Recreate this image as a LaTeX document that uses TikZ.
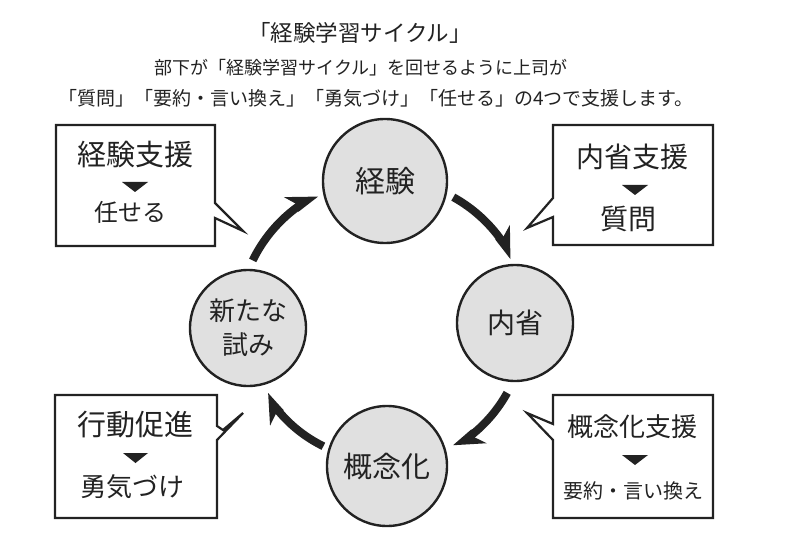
\documentclass[tikz,border=0pt]{standalone}
\usepackage{fontspec}
\newfontfamily\jp{Noto Sans CJK JP}
\usetikzlibrary{calc}
\definecolor{cfill}{HTML}{E0E0E0}
\definecolor{ink}{HTML}{222222}
\newcommand{\cycarr}[3]{% #1 start angle, #2 tip angle (visual, counter-clockwise), #3 radius
  \draw[ink,line width=8pt] ($(C)+(-#1:#3)$) arc[start angle=-#1, end angle={-(#2+8)}, radius=#3];
  \fill[ink] ($(C)+({-#2}:{#3-2})$) -- ($(C)+({-(#2+11)}:{#3+16})$) -- ($(C)+({-(#2+9)}:{#3+4})$) -- ($(C)+({-(#2+10)}:{#3-4.5})$) -- cycle;
}
\begin{document}
\begin{tikzpicture}[x=1pt,y=-1pt,
  cyc/.style={circle,draw=ink,line width=2.4pt,fill=cfill,inner sep=0pt,text=ink,align=center},
  bubble/.style={draw=ink,line width=2.2pt,line join=miter,fill=white},
  lbl/.style={inner sep=0pt,text=ink,align=center,font=\jp\fontsize{#1}{36}\selectfont},
  tri/.style={fill=ink}]
\useasboundingbox (0,0) rectangle (800,556);
\fill[white] (0,0) rectangle (800,556);

% heading
\node[lbl=22.5] (title) at (360,33) {「経験学習サイクル」};
\node[lbl=18] (sub1) at (361,68) {部下が「経験学習サイクル」を回せるように上司が};
\node[lbl=19] (sub2) at (376,98) {「質問」「要約・言い換え」「勇気づけ」「任せる」の4つで支援します。};

% cycle centre
\coordinate (C) at (383,324);

% circles
\node[cyc,minimum size=124pt,font=\jp\fontsize{30}{34}\selectfont] (exp) at (385,181) {経験};
\node[cyc,minimum size=116pt,font=\jp\fontsize{28}{34}\selectfont] (ref) at (515,323) {内省};
\node[cyc,minimum size=120pt,font=\jp\fontsize{29}{34}\selectfont] (con) at (387,466) {概念化};
\node[cyc,minimum size=116pt,font=\jp\fontsize{26}{34}\selectfont] (try) at (248,328) {新たな\\試み};

% cycle arrows
\cycarr{154}{117}{145}
\cycarr{61}{27}{145}
\cycarr{-29}{-60}{142}
\cycarr{-116}{-149}{136}

% speech bubbles
\draw[bubble] (56,125) -- (215,125) -- (215,203) -- (243,231) -- (215,218) -- (215,246) -- (56,246) -- cycle;
\draw[bubble] (553,125) -- (713,125) -- (713,245) -- (553,245) -- (553,217) -- (527,228) -- (553,198) -- cycle;
\draw[bubble] (55,395) -- (217,395) -- (217,426) -- (223,430) -- (243,413) -- (217,440) -- (217,518) -- (55,518) -- cycle;
\draw[bubble] (553,395) -- (713,395) -- (713,518) -- (553,518) -- (553,440) -- (527,413) -- (553,424) -- cycle;

% bubble texts
\node[lbl=29] (b1a) at (135,155) {経験支援};
\fill[tri] (122,182) -- (148,182) -- (135,192) -- cycle;
\node[lbl=24] (b1b) at (130,212) {任せる};

\node[lbl=28] (b2a) at (632,157) {内省支援};
\fill[tri] (622,185) -- (648,185) -- (635,195) -- cycle;
\node[lbl=28] (b2b) at (628,219) {質問};

\node[lbl=29] (b3a) at (135,425) {行動促進};
\fill[tri] (123,453) -- (148,453) -- (135.5,463) -- cycle;
\node[lbl=26] (b3b) at (132,487) {勇気づけ};

\node[lbl=26] (b4a) at (632,427) {概念化支援};
\fill[tri] (622,455) -- (648,455) -- (635,465) -- cycle;
\node[lbl=20] (b4b) at (633,491) {要約・言い換え};
\end{tikzpicture}
\end{document}
